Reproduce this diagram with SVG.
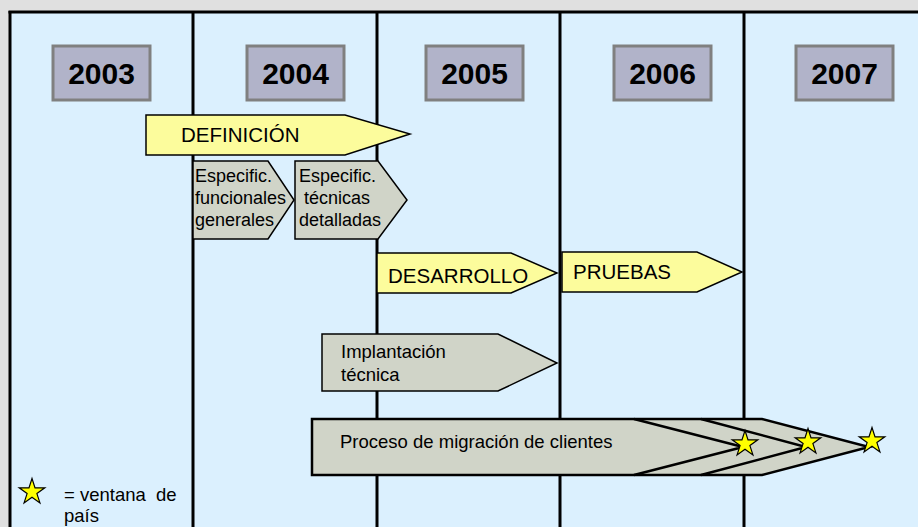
<svg xmlns="http://www.w3.org/2000/svg" width="918" height="527" viewBox="0 0 918 527">
<style>
.year rect{fill:#b1b3c9;stroke:#808080;stroke-width:3}
.year text{font-family:"Liberation Sans",Arial,sans-serif;font-weight:bold;font-size:30px;fill:#000;text-anchor:middle}
.yel{fill:#fcfc9c;stroke:#000;stroke-width:1.5}
.gry{fill:#d0d4c8;stroke:#000;stroke-width:1.5}
.t{font-family:"Liberation Sans",Arial,sans-serif;fill:#000}
.grid line{stroke:#000;stroke-width:3}
.star{fill:#ffff00;stroke:#000;stroke-width:1.2}
</style>
<defs>
<path id="star" d="M0,-13.5 L3.03,-4.17 L12.84,-4.17 L4.9,1.6 L7.93,10.92 L0,5.15 L-7.93,10.92 L-4.9,1.6 L-12.84,-4.17 L-3.03,-4.17 Z"/>
</defs>
<rect x="0" y="0" width="918" height="527" fill="#e0e0e0"/>
<rect x="10" y="12" width="910" height="520" fill="#dbf0fe"/>
<g id="grid" class="grid">
<line x1="8.5" y1="12" x2="920" y2="12"/>
<line x1="10" y1="11" x2="10" y2="527"/>
<line x1="193" y1="11" x2="193" y2="527"/>
<line x1="377" y1="11" x2="377" y2="527"/>
<line x1="560" y1="11" x2="560" y2="527"/>
<line x1="744" y1="11" x2="744" y2="527"/>
</g>
<g id="y2003" class="year"><rect x="53" y="46" width="97" height="54"/><text x="101.5" y="84">2003</text></g>
<g id="y2004" class="year"><rect x="247" y="46" width="97" height="54"/><text x="295.5" y="84">2004</text></g>
<g id="y2005" class="year"><rect x="426" y="46" width="97" height="54"/><text x="474.5" y="84">2005</text></g>
<g id="y2006" class="year"><rect x="614" y="46" width="97" height="54"/><text x="662.5" y="84">2006</text></g>
<g id="y2007" class="year"><rect x="796" y="46" width="97" height="54"/><text x="844.5" y="84">2007</text></g>
<g id="definicion">
<polygon class="yel" points="146,115 345,115 410,134 345,155 146,155"/>
<text class="t" x="181" y="142" font-size="20.5">DEFINICIÓN</text>
</g>
<g id="espec-func">
<polygon class="gry" points="193,161 268,161 294,200 268,239 193,239"/>
<text class="t" font-size="18"><tspan x="195" y="182">Especific.</tspan><tspan x="195" y="204">funcionales</tspan><tspan x="195" y="226">generales</tspan></text>
</g>
<g id="espec-tec">
<polygon class="gry" points="295,161 378,161 407,200 378,239 295,239"/>
<text class="t" font-size="18" xml:space="preserve"><tspan x="299" y="182">Especific.</tspan><tspan x="299" y="204"> técnicas</tspan><tspan x="299" y="226">detalladas</tspan></text>
</g>
<g id="desarrollo">
<polygon class="yel" points="377,253 511,253 557,273 511,293 377,293"/>
<text class="t" x="388" y="283" font-size="20.5">DESARROLLO</text>
</g>
<g id="pruebas">
<polygon class="yel" points="562,252 697,252 742,272 697,292 562,292"/>
<text class="t" x="573" y="279" font-size="20.5">PRUEBAS</text>
</g>
<g id="implantacion">
<polygon class="gry" points="322,334 498,334 557,363 498,391 322,391"/>
<text class="t" font-size="18.5"><tspan x="341" y="358">Implantación</tspan><tspan x="341" y="381">técnica</tspan></text>
</g>
<g id="migracion">
<polygon class="gry" style="stroke-width:2.5" points="312,419 762,419 869,447 762,475 312,475"/>
<polyline points="634,419 743,447 634,475" fill="none" stroke="#000" stroke-width="2.5"/>
<polyline points="701,419 806,447 701,475" fill="none" stroke="#000" stroke-width="2.5"/>
<text class="t" x="340" y="448" font-size="18.5">Proceso de migración de clientes</text>
<use href="#star" class="star" x="745" y="444"/>
<use href="#star" class="star" x="808" y="442"/>
<use href="#star" class="star" x="872" y="441"/>
</g>
<g id="legend">
<use href="#star" class="star" x="32" y="492"/>
<text class="t" font-size="18.5" xml:space="preserve"><tspan x="64" y="501">= ventana  de</tspan><tspan x="64" y="522">país</tspan></text>
</g>
</svg>
